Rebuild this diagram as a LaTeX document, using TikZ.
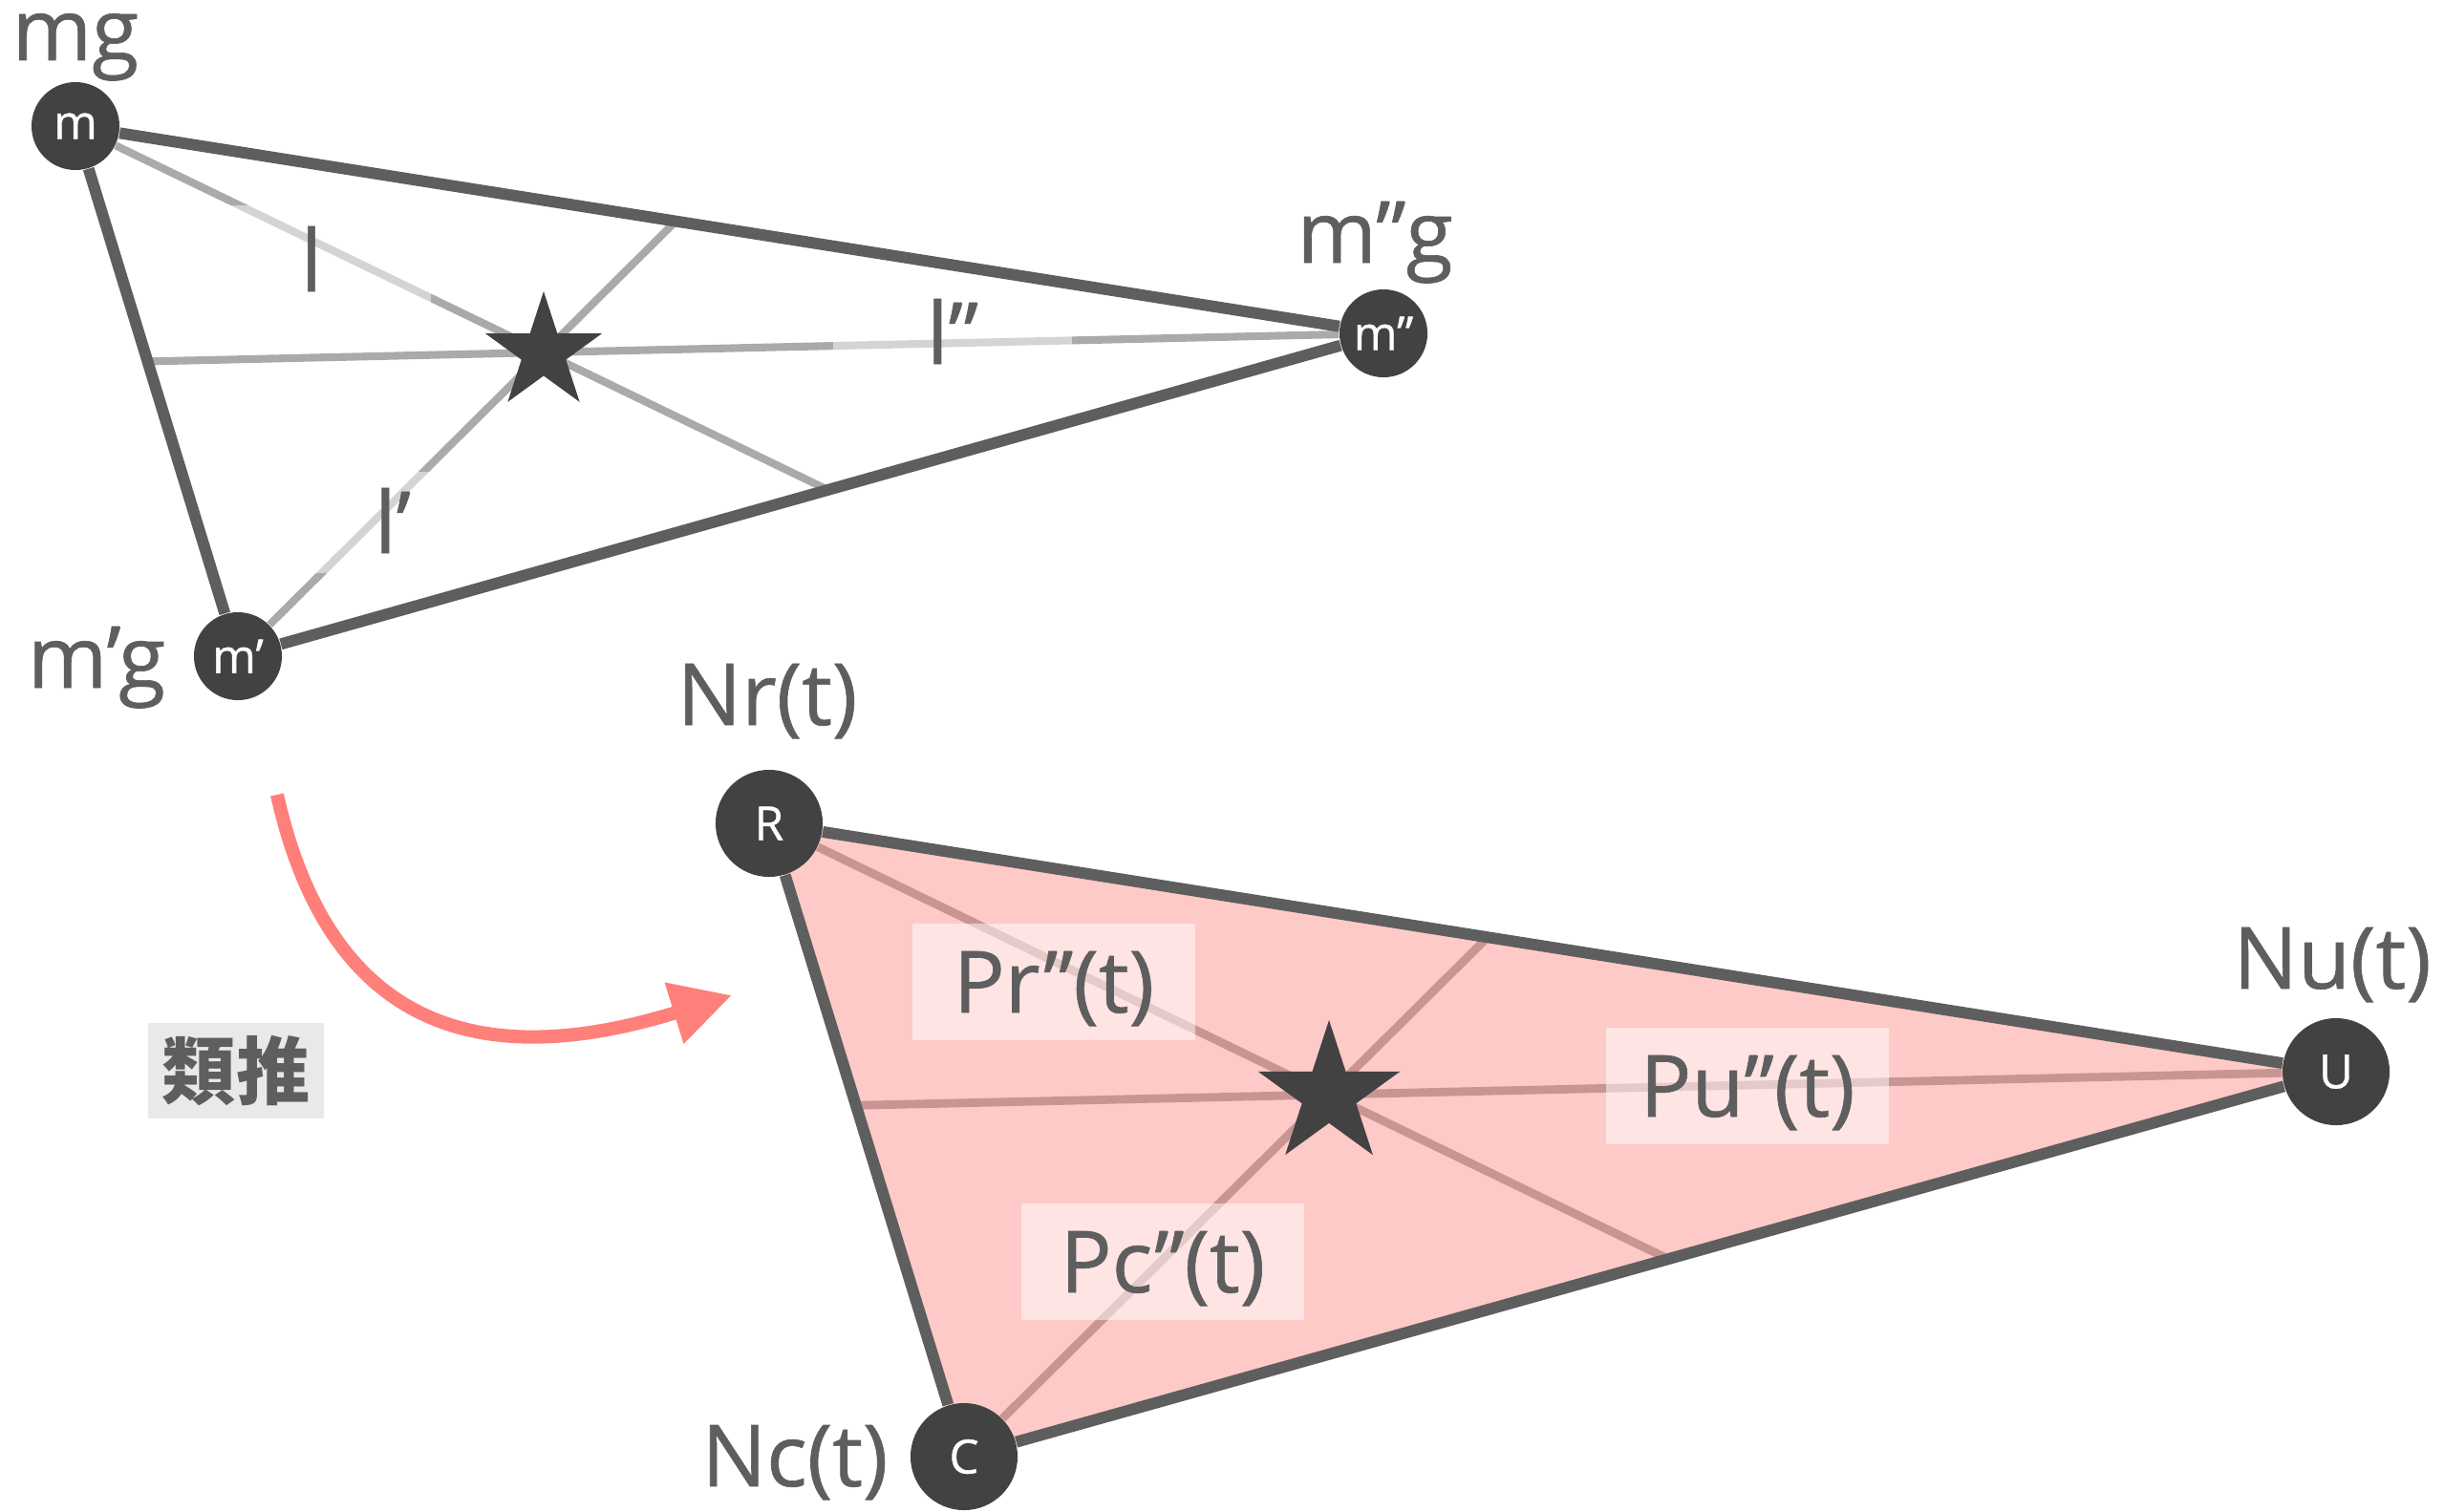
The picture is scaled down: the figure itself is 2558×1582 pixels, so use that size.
\documentclass[tikz,border=0pt]{standalone}
\usepackage{fontspec}
\setmainfont{Open Sans}
\newfontfamily\lblfont{Open Sans}[FakeBold=0.7]
\newfontfamily\cjk{Noto Sans CJK JP}
\usetikzlibrary{arrows.meta,shapes.geometric,backgrounds}
\definecolor{ink}{HTML}{5E5E5E}
\definecolor{dot}{HTML}{424242}
\definecolor{cevg}{HTML}{AAAAAA}
\definecolor{cevr}{HTML}{C99593}
\definecolor{pinkfill}{HTML}{FDCAC7}
\definecolor{salmon}{HTML}{FF7F7A}
\definecolor{boxgray}{HTML}{E9E9E9}
\tikzset{
  vtx/.style={circle,fill=dot,text=white,inner sep=0pt,minimum size=0.92cm,font=\lblfont\fontsize{14}{16}\selectfont},
  bigvtx/.style={vtx,minimum size=1.12cm},
  tri/.style={draw=ink,line width=3.4pt},
  cev/.style={draw=cevg,line width=2.3pt},
  cevb/.style={draw=cevr,line width=2.5pt},
  vlbl/.style={text=ink,anchor=base,inner sep=0pt,font=\lblfont\fontsize{25.5}{30}\selectfont},
  lblbox/.style={fill=white,fill opacity=0.5,text opacity=1,text=ink,inner sep=0pt,
    font=\lblfont\fontsize{25.5}{30}\selectfont,text height=18.2pt,text depth=0pt,
    minimum width=2.49cm,minimum height=1.15cm},
  pbox/.style={lblbox,minimum width=2.95cm,minimum height=1.21cm},
  ctr/.style={star,star points=5,star point ratio=2.618,fill=dot,inner sep=0pt},
  arr/.style={-{Triangle[length=18pt,width=18pt]},draw=salmon,line width=4pt},
  tagbox/.style={fill=boxgray,text=ink,inner sep=0pt,font=\cjk\bfseries\fontsize{22}{26}\selectfont,
    minimum width=1.84cm,minimum height=0.99cm}
}
\begin{document}
\begin{tikzpicture}[x=0.01cm,y=-0.01cm]
  \useasboundingbox (0,0) rectangle (2558,1582);

  % upper triangle
  \node[vtx] (m) at (79,132) {m};
  \node[vtx] (m1) at (249,687) {m’};
  \node[vtx] (m2) at (1448,349) {m”};
  \coordinate (g1) at (569,369);
  \coordinate (e0) at (intersection of m--g1 and m1--m2);
  \coordinate (e1) at (intersection of m1--g1 and m--m2);
  \coordinate (e2) at (intersection of m2--g1 and m--m1);

  \draw[cev] (m) -- (e0);
  \draw[cev] (m1) -- (e1);
  \draw[cev] (m2) -- (e2);
  \node[lblbox] (l0) at (326,273) {l};
  \node[lblbox,minimum height=1.05cm] (l1) at (411,547) {l’};
  \node[lblbox] (l2) at (997,349) {l”};
  \draw[tri] (m) -- (m1);
  \draw[tri] (m1) -- (m2);
  \draw[tri] (m2) -- (m);
  \node[ctr,minimum size=1.28cm] (s1) at (g1) {};

  \node[vlbl] (mg) at (79,63) {mg};
  \node[vlbl] (m1g) at (101,720) {m’g};
  \node[vlbl] (m2g) at (1439,275) {m”g};

  % lower triangle
  \node[bigvtx] (R) at (805,862) {R};
  \node[bigvtx] (C) at (1009,1525) {C};
  \node[bigvtx] (U) at (2445,1122) {U};
  \coordinate (g2) at (1391,1146);
  \coordinate (f0) at (intersection of R--g2 and C--U);
  \coordinate (f1) at (intersection of C--g2 and R--U);
  \coordinate (f2) at (intersection of U--g2 and R--C);

  \begin{scope}[on background layer]
    \fill[pinkfill] (R.center) -- (U.center) -- (C.center) -- cycle;
  \end{scope}
  \draw[cevb] (R) -- (f0);
  \draw[cevb] (C) -- (f1);
  \draw[cevb] (U) -- (f2);
  \draw[tri] (R) -- (U);
  \draw[tri] (U) -- (C);
  \draw[tri] (C) -- (R);
  \node[ctr,minimum size=1.56cm] (s2) at (g2) {};

  \node[vlbl] (nr) at (803,759) {Nr(t)};
  \node[vlbl] (nc) at (832,1556) {Nc(t)};
  \node[vlbl] (nu) at (2441,1035) {Nu(t)};
  \node[pbox] (pr) at (1103,1028) {Pr”(t)};
  \node[pbox] (pc) at (1217,1321) {Pc”(t)};
  \node[pbox] (pu) at (1829,1137) {Pu”(t)};

  % analogy arrow
  \coordinate (a0) at (290,832);
  \coordinate (a1) at (766,1042);
  \draw[arr] (a0) .. controls (350,1100) and (530,1115) .. (a1);
  \node[tagbox] (tag) at (247,1121) {類推};
\end{tikzpicture}
\end{document}
